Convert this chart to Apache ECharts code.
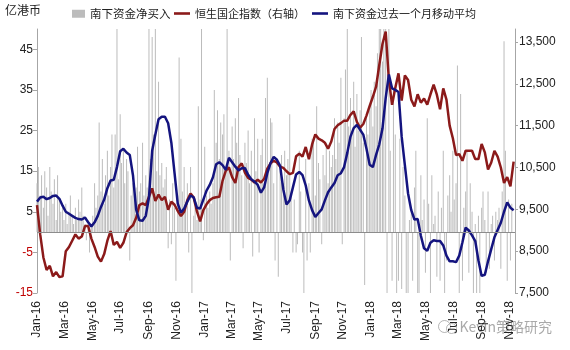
<!DOCTYPE html>
<html>
<head>
<meta charset="utf-8">
<script src="https://cdn.jsdelivr.net/npm/echarts@6/dist/echarts.min.js"></script>
<style>
  html, body { margin: 0; padding: 0; background: #fff; }
  #chart { width: 570px; height: 350px; }
</style>
</head>
<body>
<div id="chart"></div>
<script>
// Series names (legend)
const nameNetBuy = '南下资金净买入';
const nameIndex = '恒生国企指数（右轴）';
const nameAvg = '南下资金过去一个月移动平均';
const unitLabel = '亿港币';

// Sampling: line series are weekly (Mondays), net buy bars are twice a week (Mon / Thu)
const startDate = '2016-01-04';

// 南下资金净买入 (亿港币), Mon/Thu samples
const netBuy = [
  12,16,9,14,6,15,11,4,16,10,7,13,3,14,8,5,
  6,3,7,2,5,9,4,2,6,3,8,5,11,4,2,-2,
  3,-5,2,4,12,6,9,27,10,18,7,14,20,9,16,24,
  11,24,50,13,29,17,20,12,18,15,-7,9,12,8,11,21,
  10,12,22,9,14,11,50,18,48,24,50,15,37,14,17,11,
  13,16,-4,8,-3,12,6,-12,9,43,23,10,16,7,12,-5,
  16,-15,4,6,3,31,8,50,-2,21,9,6,10,7,12,35,
  22,30,18,27,24,29,15,50,20,-7,26,18,28,22,33,19,
  14,-4,22,17,25,12,20,-6,28,15,23,-5,19,23,12,33,
  38,16,28,27,12,-7,17,-11,15,19,12,20,14,18,29,10,
  -5,8,-5,-3,20,10,-5,-15,18,-7,12,-5,23,22,9,31,
  17,13,-3,19,14,22,12,20,16,19,28,18,27,22,38,-3,
  28,40,50,26,33,24,37,21,34,25,30,48,22,-13,28,24,
  30,35,26,37,31,44,50,50,42,50,50,-15,50,20,-12,35,
  24,-15,-12,23,-14,16,9,-15,-15,3,6,-12,11,20,-15,-15,
  14,3,8,-10,28,7,-15,14,2,4,-11,10,-12,6,20,-15,
  -7,9,14,5,20,8,12,41,-15,34,-12,6,10,20,-10,12,
  5,-15,2,-15,4,-15,6,10,3,-10,10,-9,2,4,-7,5,
  3,6,-9,10,47,20,-12,8,-7,7
];

// 恒生国企指数, weekly
const hsceiIndex = [
  9600,8900,8350,8050,8150,7900,8000,7880,7900,8500,
  8600,8750,8900,8800,8850,9100,9100,8800,8600,8370,
  8250,8430,8750,8980,8650,8720,8580,8700,8950,9050,
  9120,9300,9600,9640,9600,9800,10000,9700,9850,9720,
  9800,9490,9680,9610,9460,9340,9440,9720,9880,9780,
  9450,9210,9480,9620,9720,9770,9790,9800,10180,10420,
  10500,10270,10130,10510,10600,10380,10250,10210,10140,10210,
  10140,10230,10470,10600,10660,10620,10520,10490,10410,10340,
  10370,10770,10830,10760,10990,10700,11050,11290,11190,11150,
  11090,10950,11120,11420,11510,11560,11620,11620,11760,11840,
  11590,11450,11540,11740,11970,12190,12430,12950,13450,13750,
  12600,12000,12400,12750,12100,12700,12590,12120,11960,12250,
  12050,12150,12000,12250,12480,12240,11890,12390,12120,11500,
  11200,10800,10820,10660,10900,10900,10900,10700,10700,11060,
  10860,10450,10620,10900,10760,10500,10130,10270,10050,10640
];

// 南下资金过去一个月移动平均 (亿港币), weekly
const avgOneMonth = [
  7.5,8.5,8.7,8.1,8.4,8.9,9.0,8.2,6.5,5.0,
  4.5,4.0,3.5,3.2,3.1,3.6,2.4,1.4,2.4,4.0,
  6.2,8.0,10.8,12.7,12.9,16.0,19.9,20.5,19.6,19.0,
  14.0,5.5,2.9,2.8,4.0,8.5,20.0,24.0,27.8,28.4,
  28.4,26.8,22.0,14.5,7.0,4.8,5.8,7.5,9.0,8.5,
  6.0,5.8,8.0,10.2,11.6,13.5,16.7,17.2,16.5,15.3,
  18.3,17.2,16.1,15.2,15.7,15.8,14.1,13.0,12.4,11.6,
  9.7,11.0,14.5,17.0,18.5,17.8,16.3,10.5,6.8,7.8,
  11.0,14.2,14.8,14.0,11.5,7.8,5.4,3.7,4.7,5.6,
  7.8,9.8,11.0,12.1,14.0,14.5,16.0,19.5,23.5,25.6,
  26.4,25.2,24.0,20.5,16.6,16.0,19.0,21.6,25.5,33.0,
  38.8,35.4,35.0,34.5,23.5,16.5,9.5,5.4,3.1,3.2,
  -0.9,-4.0,-4.6,-2.6,-2.0,-2.2,-2.2,-3.3,-5.8,-7.2,
  -7.2,-7.4,-5.8,-2.5,1.1,0.4,-0.8,-2.2,-7.0,-10.8,
  -10.5,-7.2,-4.2,-1.3,0.5,2.3,5.0,7.3,6.0,5.4
];

// x-axis tick labels (every two months)
const tickDates = [
  '2016-01-04','2016-03-04','2016-05-04','2016-07-04','2016-09-04','2016-11-04',
  '2017-01-04','2017-03-04','2017-05-04','2017-07-04','2017-09-04','2017-11-04',
  '2018-01-04','2018-03-04','2018-05-04','2018-07-04','2018-09-04','2018-11-04'
];
const tickLabels = [
  'Jan-16','Mar-16','May-16','Jul-16','Sep-16','Nov-16',
  'Jan-17','Mar-17','May-17','Jul-17','Sep-17','Nov-17',
  'Jan-18','Mar-18','May-18','Jul-18','Sep-18','Nov-18'
];

// The x axis counts calendar days from startDate
const DAY = 86400000;
const toMs = s => { const p = s.split('-').map(Number); return Date.UTC(p[0], p[1] - 1, p[2]); };
const t0 = toMs(startDate);
const dayOf = s => Math.round((toMs(s) - t0) / DAY);
const tickDays = tickDates.map(dayOf);
const lastDay = 1046;

const barData = netBuy.map((v, j) => [Math.floor(j / 2) * 7 + (j % 2) * 3, v]);
const indexData = hsceiIndex.map((v, i) => [i * 7, v]);
const avgData = avgOneMonth.map((v, i) => [i * 7, v]);

const latin = 'Liberation Sans, Arial, sans-serif';
const cjk = '"Noto Sans CJK SC", "Noto Sans", sans-serif';
const lineIcon = 'path://M0,0H16V2.6H0Z';
const red = '#8b1a1a';
const navy = '#14147f';

const legendBase = {
  top: 3, itemHeight: 8, itemGap: 6,
  textStyle: { fontSize: 11, color: '#222', fontFamily: cjk }
};

const chart = echarts.init(document.getElementById('chart'), null, { renderer: 'canvas' });
chart.setOption({
  animation: false,
  backgroundColor: '#fff',
  grid: { left: 37, right: 55, top: 29, bottom: 57, containLabel: false },
  legend: [
    Object.assign({}, legendBase, {
      left: 67, itemWidth: 13,
      textStyle: { fontSize: 11.5, color: '#222', fontFamily: cjk },
      data: [{ name: nameNetBuy, icon: 'rect' }]
    }),
    Object.assign({}, legendBase, {
      left: 169, itemWidth: 16,
      data: [{ name: nameIndex, icon: lineIcon, itemStyle: { color: red } }]
    }),
    Object.assign({}, legendBase, {
      left: 307, itemWidth: 16,
      data: [{ name: nameAvg, icon: lineIcon, itemStyle: { color: navy } }]
    })
  ],
  xAxis: {
    type: 'value',
    min: 0,
    max: lastDay,
    axisLine: { show: false, onZero: false },
    axisTick: { show: false },
    splitLine: { show: false },
    axisLabel: {
      customValues: tickDays,
      rotate: 90,
      margin: 8,
      fontSize: 12,
      color: '#222',
      fontFamily: latin,
      hideOverlap: false,
      formatter: v => {
        const k = tickDays.indexOf(v);
        return k >= 0 ? tickLabels[k] : '';
      }
    }
  },
  yAxis: [
    {
      type: 'value', position: 'left',
      min: -15, max: 50, interval: 10,
      axisLine: { show: true, lineStyle: { color: '#a6a6a6' } },
      axisTick: { show: true, length: 4, lineStyle: { color: '#a6a6a6' } },
      splitLine: { show: false },
      axisLabel: {
        showMaxLabel: false, margin: 4, fontSize: 12, fontFamily: latin,
        color: v => (v < 0 ? '#c00000' : '#222')
      }
    },
    {
      type: 'value', position: 'right',
      min: 7500, max: 13810, interval: 1000,
      axisLine: { show: true, lineStyle: { color: '#a6a6a6' } },
      axisTick: { show: true, length: 3, lineStyle: { color: '#a6a6a6' } },
      splitLine: { show: false },
      axisLabel: {
        showMaxLabel: false, margin: 4, fontSize: 12, fontFamily: latin, color: '#222',
        formatter: v => v.toLocaleString('en-US')
      }
    }
  ],
  series: [
    {
      name: nameNetBuy, type: 'bar', yAxisIndex: 0,
      data: barData, barWidth: 1,
      itemStyle: { color: '#bcbcbc' },
      markLine: {
        silent: true, symbol: 'none', label: { show: false },
        lineStyle: { color: '#8c8c8c', width: 1, type: 'solid' },
        data: [{ yAxis: 0 }]
      },
      z: 1
    },
    {
      name: nameIndex, type: 'line', yAxisIndex: 1,
      data: indexData, symbol: 'none', showSymbol: false,
      lineStyle: { color: red, width: 2.5 },
      itemStyle: { color: red },
      z: 3
    },
    {
      name: nameAvg, type: 'line', yAxisIndex: 0,
      data: avgData, symbol: 'none', showSymbol: false,
      lineStyle: { color: navy, width: 2.5 },
      itemStyle: { color: navy },
      z: 4
    }
  ],
  graphic: [
    {
      type: 'text', left: 5, top: 4,
      style: { text: unitLabel, fontSize: 12, fill: '#222', fontFamily: cjk }
    },
    {
      type: 'group', left: 436, top: 318,
      children: [
        { type: 'circle', shape: { cx: 7, cy: 7, r: 6 }, style: { fill: 'none', stroke: 'rgba(150,150,150,0.7)', lineWidth: 1 } },
        { type: 'circle', shape: { cx: 14, cy: 9, r: 5 }, style: { fill: 'none', stroke: 'rgba(150,150,150,0.7)', lineWidth: 1 } },
        {
          type: 'text', x: 22, y: 0,
          style: { text: 'Kevin策略研究', fontSize: 14, fill: 'rgba(140,140,140,0.75)', stroke: 'rgba(255,255,255,0.8)', lineWidth: 2, fontFamily: cjk }
        }
      ]
    }
  ]
});
</script>
</body>
</html>
